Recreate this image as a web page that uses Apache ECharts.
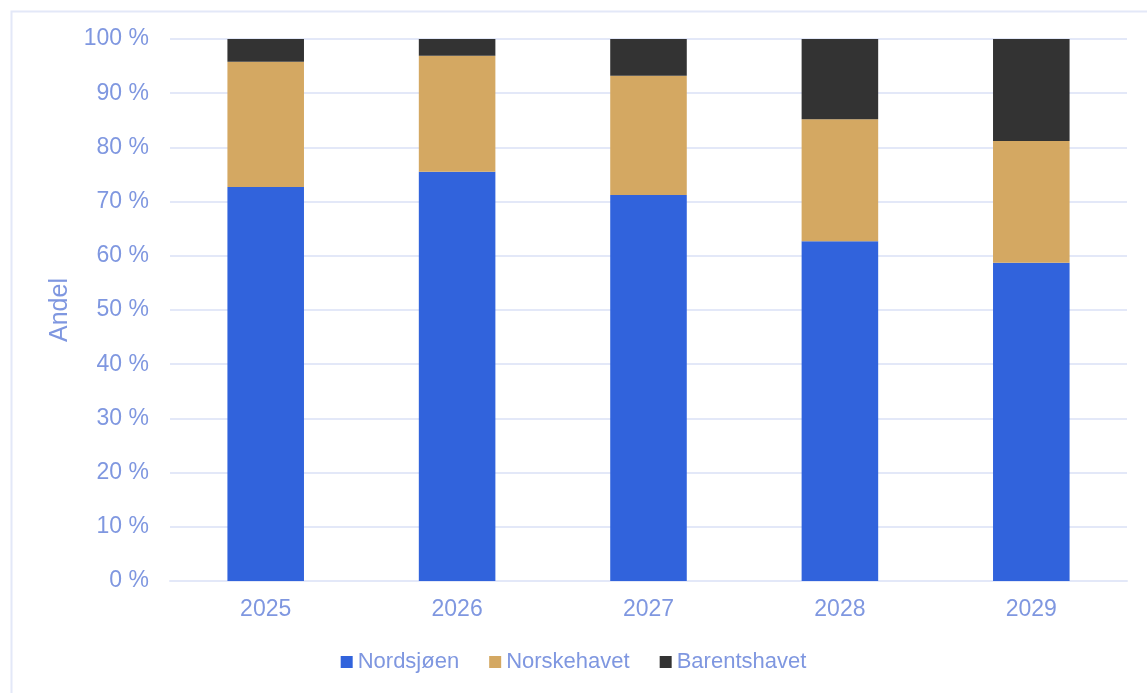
<!DOCTYPE html>
<html>
<head>
<meta charset="utf-8">
<script src="https://cdn.jsdelivr.net/npm/echarts@6/dist/echarts.min.js"></script>
<style>html,body{margin:0;padding:0;background:#fff;}#c{width:1147px;height:693px;}</style>
</head>
<body>
<div id="c"></div>
<script>
var categories = ['2025', '2026', '2027', '2028', '2029'];
var nordsjoen = [72.7, 75.5, 71.2, 62.7, 58.7];
var norskehavet = [23.1, 21.4, 22.0, 22.5, 22.5];
var barentshavet = [4.2, 3.1, 6.8, 14.8, 18.8];
var seriesNames = ['Nordsjøen', 'Norskehavet', 'Barentshavet'];
var colors = ['#3163DC', '#D4A862', '#333333'];

var textColor = '#7F97E0';
var font = 'Liberation Sans, Arial, sans-serif';
var chart = echarts.init(document.getElementById('c'));
var data = [nordsjoen, norskehavet, barentshavet];
chart.setOption({
  animation: false,
  color: colors,
  graphic: [{
    type: 'rect', left: 9, top: 9, shape: {width: 1200, height: 700},
    style: {fill: 'none', stroke: '#E3E8F8', lineWidth: 2}, silent: true, z: -1
  }],
  grid: {left: 170, right: 20, top: 39, bottom: 112},
  legend: {
    bottom: 15, left: 'center', itemWidth: 12, itemHeight: 12, itemGap: 30,
    icon: 'rect',
    textStyle: {color: textColor, fontSize: 22, fontFamily: font, padding: [0, 0, 0, 0]},
    data: seriesNames
  },
  xAxis: {
    type: 'category', data: categories,
    axisLine: {lineStyle: {color: '#E3E8F8', width: 2}},
    axisTick: {show: false},
    axisLabel: {color: textColor, fontSize: 23, fontFamily: font, margin: 17}
  },
  yAxis: {
    type: 'value', min: 0, max: 100, interval: 10,
    name: 'Andel', nameLocation: 'middle', nameGap: 96, nameRotate: 90,
    nameTextStyle: {color: textColor, fontSize: 25, fontFamily: font},
    axisLine: {show: false}, axisTick: {show: false},
    axisLabel: {color: textColor, fontSize: 23, fontFamily: font, margin: 21, formatter: '{value} %',
      padding: [3, 0, 0, 0]},
    splitLine: {lineStyle: {color: '#E3E8F8', width: 2}}
  },
  series: seriesNames.map(function (n, i) {
    return {
      name: n, type: 'bar', stack: 'total', barWidth: '40%',
      data: data[i],
      itemStyle: {color: colors[i]}
    };
  })
});
</script>
</body>
</html>
